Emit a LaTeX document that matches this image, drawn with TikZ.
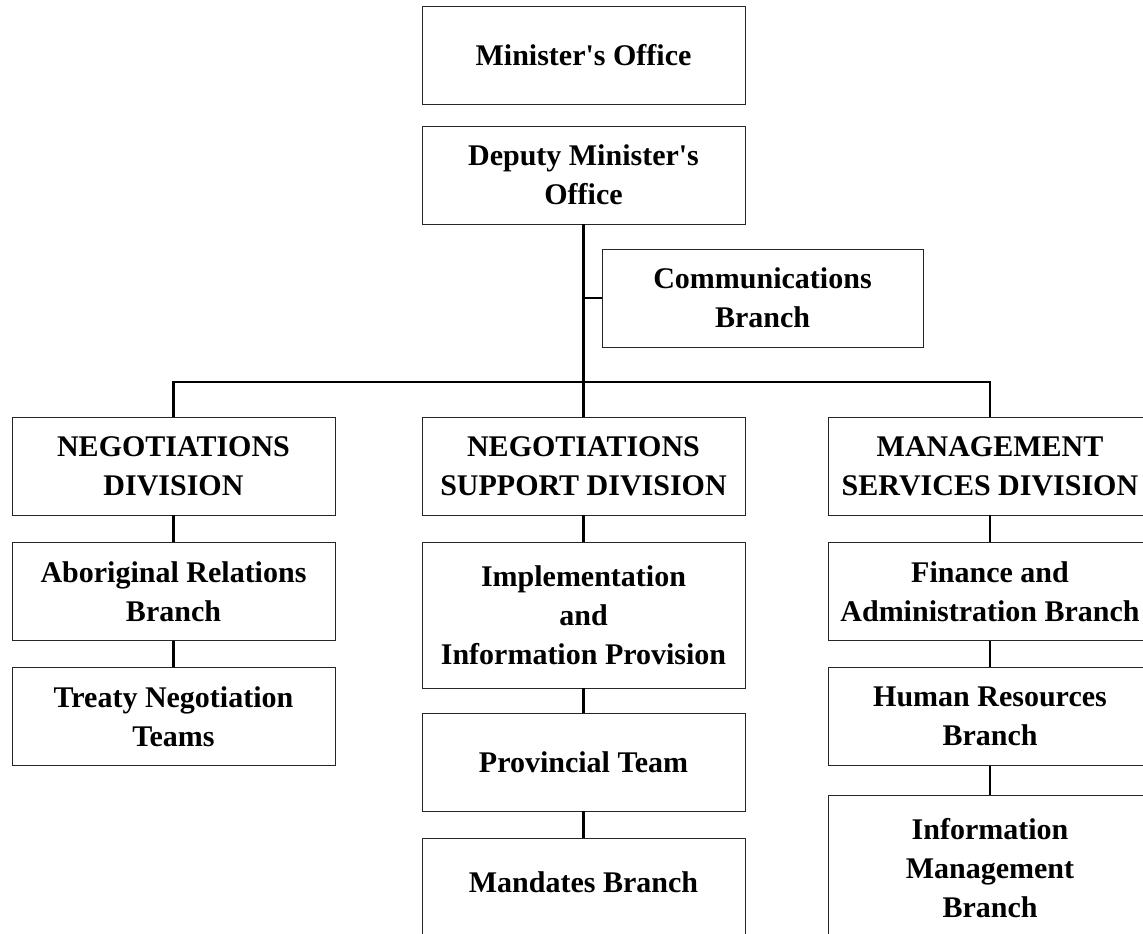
\documentclass[tikz,border=0pt]{standalone}
\usepackage{fontspec}
\setmainfont{Liberation Serif}
\begin{document}
\begin{tikzpicture}[x=1pt,y=-1pt,
  orgbox/.style={draw=black!85, line width=0.9pt, fill=white, align=center,
    minimum width=323pt, minimum height=98pt, inner sep=0pt,
    font=\bfseries\fontsize{30}{39}\selectfont},
  tallbox/.style={orgbox, minimum height=146pt},
  link/.style={draw=black, line width=2.2pt}]
\useasboundingbox (0,0) rectangle (1143,934);
\clip (0,0) rectangle (1143,934);
\node[orgbox] (mo)  at (583.5,55.5) {Minister\textquotesingle s Office};
\node[orgbox] (dmo) at (583.5,175)  {Deputy Minister\textquotesingle s\\Office};
\node[orgbox, minimum width=321pt] (comm) at (762.5,298) {Communications\\Branch};
\node[orgbox] (nd)  at (173.5,466)  {NEGOTIATIONS\\DIVISION};
\node[orgbox] (nsd) at (583.5,466)  {NEGOTIATIONS\\SUPPORT DIVISION};
\node[orgbox] (msd) at (990,466)    {MANAGEMENT\\SERVICES DIVISION};
\node[orgbox] (arb) at (173.5,591.5) {Aboriginal Relations\\Branch};
\node[orgbox] (tnt) at (173.5,716.5) {Treaty Negotiation\\Teams};
\node[tallbox] (iip) at (583.5,615) {Implementation\\and\\Information Provision};
\node[orgbox] (pt)  at (583.5,762)  {Provincial Team};
\node[orgbox] (mb)  at (583.5,887)  {\raisebox{10pt}{Mandates Branch}};
\node[orgbox] (fab) at (990,591.5)  {Finance and\\Administration Branch};
\node[orgbox] (hrb) at (990,716.5)  {Human Resources\\Branch};
\node[tallbox] (imb) at (990,868)   {Information\\Management\\Branch};
\coordinate (bar) at (0,382);
\draw[link] (dmo.south) -- (dmo.south |- bar);
\draw[link] (comm.west) -- (comm.west -| dmo.south);
\draw[link] (nd.north) -- (nd.north |- bar) -| (msd.north);
\draw[link] (nsd.north) -- (nsd.north |- bar);
\draw[link] (nd.south) -- (arb.north);
\draw[link] (arb.south) -- (tnt.north);
\draw[link] (nsd.south) -- (iip.north);
\draw[link] (iip.south) -- (pt.north);
\draw[link] (pt.south) -- (mb.north);
\draw[link] (msd.south) -- (fab.north);
\draw[link] (fab.south) -- (hrb.north);
\draw[link] (hrb.south) -- (imb.north);
\end{tikzpicture}
\end{document}
